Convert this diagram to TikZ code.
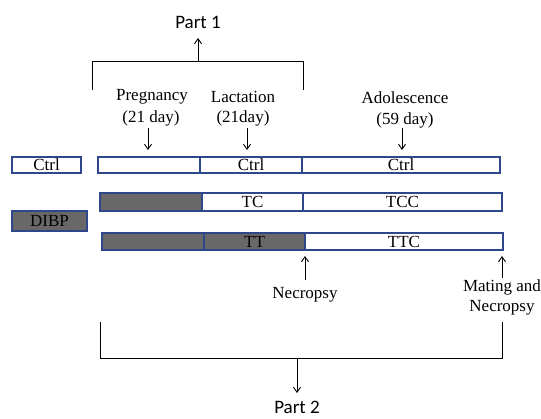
\documentclass[tikz,border=0pt]{standalone}
\usepackage{fontspec}
\setmainfont{Liberation Serif}
\newfontfamily\partfont{Carlito}
\usetikzlibrary{arrows.meta}
\definecolor{boxblue}{RGB}{46,70,138}
\definecolor{barfill}{RGB}{104,104,104}
\begin{document}
\begin{tikzpicture}[x=1pt,y=-1pt,
  seg/.style={draw=boxblue,line width=1.7pt,inner sep=0pt,font=\fontsize{17}{20}\selectfont},
  lbl/.style={inner sep=0pt,align=center,font=\fontsize{17}{21}\selectfont},
  part/.style={inner sep=0pt,font=\partfont\fontsize{19}{22}\selectfont},
  arr/.style={line width=0.9pt,-{Straight Barb[length=5pt,width=7pt]}},
  brk/.style={line width=0.9pt}]
\fill[white] (0,0) rectangle (541,418);
\useasboundingbox (0,0) rectangle (541,418);
% left legend boxes
\node[seg,fill=white,minimum width=69pt,minimum height=16pt] (ctrl) at (46.5,165) {Ctrl};
\node[seg,fill=barfill,minimum width=75pt,minimum height=20pt] (dibp) at (49.5,221) {DIBP};
% row 1
\node[seg,fill=white,minimum width=102pt,minimum height=16pt] (r1a) at (149,165) {};
\node[seg,fill=white,minimum width=102pt,minimum height=16pt] (r1b) at (251,165) {Ctrl};
\node[seg,fill=white,minimum width=198pt,minimum height=16pt] (r1c) at (401,165) {Ctrl};
% row 2
\node[seg,fill=barfill,minimum width=102pt,minimum height=18pt] (r2a) at (151,202) {};
\node[seg,fill=white,minimum width=101pt,minimum height=18pt] (r2b) at (252.5,202) {TC};
\node[seg,fill=white,minimum width=199pt,minimum height=18pt] (r2c) at (402.5,202) {TCC};
% row 3
\node[seg,fill=barfill,minimum width=102pt,minimum height=17pt] (r3a) at (153,241.5) {};
\node[seg,fill=barfill,minimum width=101pt,minimum height=17pt] (r3b) at (254.5,241.5) {TT};
\node[seg,fill=white,minimum width=198pt,minimum height=17pt] (r3c) at (404,241.5) {TTC};
% top labels
\node[lbl] (preg) at (152,97) {Pregnancy};
\node[lbl] (preg2) at (151,118) {(21 day)};
\node[lbl] (lact) at (243,97) {Lactation};
\node[lbl] (lact2) at (243,118) {(21day)};
\node[lbl] (adol) at (405,98) {Adolescence};
\node[lbl] (adol2) at (405,120) {(59 day)};
\coordinate (pa) at (148,128); \coordinate (pb) at (148,150);
\coordinate (la) at (247,128); \coordinate (lb) at (247,150);
\coordinate (aa) at (402,128); \coordinate (ab) at (402,150);
\draw[arr] (pa) -- (pb);
\draw[arr] (la) -- (lb);
\draw[arr] (aa) -- (ab);
% Part 1 bracket
\node[part] (p1) at (198,22) {Part 1};
\coordinate (b1l) at (92,90); \coordinate (b1r) at (303,90);
\coordinate (b1tl) at (92,61); \coordinate (b1tr) at (303,61);
\coordinate (b1m) at (198,61); \coordinate (b1a) at (198,38);
\draw[brk] (b1l) -- (b1tl) -- (b1tr) -- (b1r);
\draw[arr] (b1m) -- (b1a);
% necropsy labels
\node[lbl] (necro) at (305,295) {Necropsy};
\node[lbl] (mating) at (502,287) {Mating and};
\node[lbl] (mating2) at (502,308) {Necropsy};
\coordinate (na) at (305,280); \coordinate (ma) at (502,278);
\draw[arr] (na) -- (305,256);
\draw[arr] (ma) -- (502,256);
% Part 2 bracket
\node[part] (p2) at (297,407) {Part 2};
\coordinate (b2l) at (100,322); \coordinate (b2r) at (502,322);
\coordinate (b2bl) at (100,358); \coordinate (b2br) at (502,358);
\coordinate (b2m) at (297,358); \coordinate (b2a) at (297,393);
\draw[brk] (b2l) -- (b2bl) -- (b2br) -- (b2r);
\draw[arr] (b2m) -- (b2a);
\end{tikzpicture}
\end{document}
